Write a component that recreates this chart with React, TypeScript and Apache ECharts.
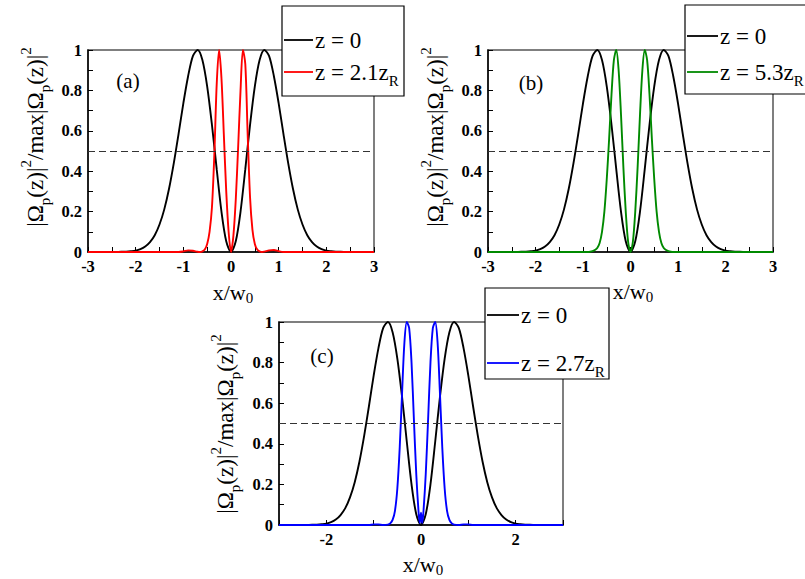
import React, { useEffect, useRef } from 'react';
import * as echarts from 'echarts';

const blackX = [-3, -2.9, -2.8, -2.7, -2.6, -2.5, -2.4, -2.3, -2.2, -2.1, -2, -1.9, -1.8, -1.7, -1.6, -1.5, -1.4, -1.3, -1.2, -1.1, -1, -0.9, -0.8, -0.7, -0.6, -0.5, -0.4, -0.3, -0.2, -0.1, 0, 0.1, 0.2, 0.3, 0.4, 0.5, 0.6, 0.7, 0.8, 0.9, 1, 1.1, 1.2, 1.3, 1.4, 1.5, 1.6, 1.7, 1.8, 1.9, 2, 2.1, 2.2, 2.3, 2.4, 2.5, 2.6, 2.7, 2.8, 2.9, 3];
const blackY = [0, 0, 0, 0, 0, 0, 0.0005, 0.001, 0.002, 0.004, 0.007, 0.014, 0.027, 0.049, 0.083, 0.136, 0.211, 0.313, 0.44, 0.585, 0.736, 0.87, 0.97, 1.0, 0.95, 0.82, 0.63, 0.41, 0.2, 0.053, 0, 0.053, 0.2, 0.41, 0.63, 0.82, 0.95, 1.0, 0.97, 0.87, 0.736, 0.585, 0.44, 0.313, 0.211, 0.136, 0.083, 0.049, 0.027, 0.014, 0.007, 0.004, 0.002, 0.001, 0.0005, 0, 0, 0, 0, 0, 0];

const redX = [-3, -1.2, -1.1, -1.0, -0.9, -0.8, -0.7, -0.65, -0.6, -0.55, -0.5, -0.45, -0.4, -0.35, -0.3, -0.25, -0.2, -0.15, -0.1, -0.05, 0, 0.05, 0.1, 0.15, 0.2, 0.25, 0.3, 0.35, 0.4, 0.45, 0.5, 0.55, 0.6, 0.65, 0.7, 0.8, 0.9, 1.0, 1.1, 1.2, 3];
const redY = [0, 0, 0, 0.003, 0.008, 0.006, 0.001, 0, 0.003, 0.012, 0.04, 0.1, 0.22, 0.48, 0.83, 1.0, 0.86, 0.58, 0.3, 0.1, 0, 0.08, 0.26, 0.52, 0.8, 1.0, 0.93, 0.58, 0.27, 0.11, 0.04, 0.012, 0.003, 0, 0.002, 0.008, 0.01, 0.004, 0, 0, 0];

const greenX = [-3, -1.0, -0.9, -0.85, -0.8, -0.75, -0.7, -0.65, -0.6, -0.55, -0.5, -0.45, -0.4, -0.35, -0.3, -0.25, -0.2, -0.15, -0.1, -0.05, 0, 0.05, 0.1, 0.15, 0.2, 0.25, 0.3, 0.35, 0.4, 0.45, 0.5, 0.55, 0.6, 0.65, 0.7, 0.75, 0.8, 0.85, 0.9, 1.0, 3];
const greenY = [0, 0, 0, 0.001, 0.004, 0.01, 0.02, 0.045, 0.1, 0.2, 0.36, 0.56, 0.78, 0.95, 1.0, 0.9, 0.68, 0.42, 0.2, 0.05, 0, 0.05, 0.2, 0.42, 0.68, 0.9, 1.0, 0.95, 0.78, 0.56, 0.36, 0.2, 0.1, 0.045, 0.02, 0.01, 0.004, 0.001, 0, 0, 0];

const blueX = [-3, -1.1, -1.0, -0.9, -0.8, -0.7, -0.65, -0.6, -0.55, -0.5, -0.45, -0.4, -0.35, -0.3, -0.25, -0.2, -0.15, -0.1, -0.05, -0.025, 0, 0.025, 0.05, 0.1, 0.15, 0.2, 0.25, 0.3, 0.35, 0.4, 0.45, 0.5, 0.55, 0.6, 0.65, 0.7, 0.8, 0.9, 1.0, 1.1, 3];
const blueY = [0, 0, 0.003, 0.003, 0, 0.002, 0.008, 0.025, 0.07, 0.18, 0.38, 0.65, 0.9, 1.0, 0.97, 0.8, 0.52, 0.25, 0.06, 0.01, 0.06, 0.01, 0.06, 0.25, 0.52, 0.8, 0.97, 1.0, 0.9, 0.65, 0.38, 0.18, 0.07, 0.025, 0.008, 0.002, 0, 0.003, 0.003, 0, 0];

const yTicks = { min: 0, max: 1, interval: 0.2 };
const xRange = { min: -3, max: 3, interval: 1 };
const halfLevel = 0.5;

const panelNames = ['(a)', '(b)', '(c)'];
const legendZero = 'z = 0';
const colored = [
  { x: redX, y: redY, color: '#ff0000', name: 'z = 2.1zR', z: '2.1' },
  { x: greenX, y: greenY, color: '#008a00', name: 'z = 5.3zR', z: '5.3' },
  { x: blueX, y: blueY, color: '#0000ff', name: 'z = 2.7zR', z: '2.7' },
];

const zip = (xs: number[], ys: number[]) => xs.map((x, i) => [x, ys[i]]);

const SERIF = 'Liberation Serif';

const grids = [
  { left: 88, top: 50, width: 286, height: 202 },
  { left: 488, top: 50, width: 285, height: 202 },
  { left: 279, top: 322, width: 284, height: 203 },
];

export default function App() {
  const ref = useRef<HTMLDivElement>(null);
  useEffect(() => {
    if (!ref.current) return;
    const chart = echarts.init(ref.current, undefined, { renderer: 'svg' });

    const labelStyle = { color: '#000', fontFamily: SERIF, fontWeight: 'bold' as const, fontSize: 16.5 };

    const xAxes = grids.map((_, i) => ({
      type: 'value',
      gridIndex: i,
      min: xRange.min,
      max: xRange.max,
      interval: xRange.interval,
      axisLine: { show: true, onZero: false, lineStyle: { color: '#000', width: 1.5 } },
      axisTick: { show: true, inside: true, length: 5, lineStyle: { color: '#000', width: 1 } },
      minorTick: { show: i < 2, splitNumber: 2, length: 5, lineStyle: { color: '#000', width: 1 } },
      splitLine: { show: false },
      axisLabel: {
        ...labelStyle,
        margin: 6,
        formatter: (v: number) => (i === 2 && Math.abs(v) % 2 !== 0 ? '' : String(v)),
      },
    }));
    const yAxes = grids.map((_, i) => ({
      type: 'value',
      gridIndex: i,
      min: yTicks.min,
      max: yTicks.max,
      interval: yTicks.interval,
      axisLine: { show: true, onZero: false, lineStyle: { color: '#000', width: 1.5 } },
      axisTick: { show: true, inside: true, length: 5, lineStyle: { color: '#000', width: 1 } },
      minorTick: { show: true, splitNumber: 2, length: 5, lineStyle: { color: '#000', width: 1 } },
      splitLine: { show: false },
      axisLabel: { ...labelStyle, margin: 6 },
    }));

    const series: any[] = [];
    grids.forEach((_, i) => {
      series.push({
        type: 'line',
        name: legendZero,
        xAxisIndex: i,
        yAxisIndex: i,
        data: zip(blackX, blackY),
        showSymbol: false,
        smooth: 0.3,
        lineStyle: { color: '#000', width: 1.9 },
        z: 3,
        markLine: {
          silent: true,
          symbol: ['none', 'none'],
          label: { show: false },
          lineStyle: { color: '#333', type: [7, 4], width: 1 },
          data: [{ yAxis: halfLevel }],
        },
      });
      series.push({
        type: 'line',
        name: colored[i].name,
        xAxisIndex: i,
        yAxisIndex: i,
        data: zip(colored[i].x, colored[i].y),
        showSymbol: false,
        smooth: 0.3,
        lineStyle: { color: colored[i].color, width: 1.9 },
        z: 4,
      });
    });

    const mainStyle = (size: number, lh: number) => ({ fontFamily: SERIF, fontSize: size, lineHeight: lh, fill: '#000', verticalAlign: 'middle' });
    const subStyle = { fontFamily: SERIF, fontSize: 15, lineHeight: 15, fill: '#000', verticalAlign: 'bottom' };
    const supStyle = { fontFamily: SERIF, fontSize: 15, lineHeight: 15, fill: '#000', verticalAlign: 'top' };

    const yTitle = (x: number, y: number) => ({
      type: 'text',
      x,
      y,
      rotation: Math.PI / 2,
      z: 50,
      style: {
        text: '{m||Ω}{s|p}{m|(z)|}{u|2}{m|/max|Ω}{s|p}{m|(z)|}{u|2}',
        rich: { m: mainStyle(23, 34), s: subStyle, u: supStyle },
        fontFamily: SERIF,
        fontSize: 23,
        align: 'center',
        verticalAlign: 'middle',
        fill: '#000',
      },
    });
    const xTitle = (x: number, y: number) => ({
      type: 'text',
      x,
      y,
      z: 50,
      style: {
        text: '{m|x/w}{s|0}',
        rich: { m: mainStyle(22, 26), s: subStyle },
        fontFamily: SERIF,
        fontSize: 22,
        align: 'center',
        verticalAlign: 'middle',
      },
    });
    const panelLabel = (t: string, x: number, y: number) => ({
      type: 'text',
      x,
      y,
      z: 50,
      style: { text: t, fontFamily: SERIF, fontSize: 21, fill: '#000', align: 'center', verticalAlign: 'middle' },
    });
    const legendBox = (
      bx: number, by: number, bw: number, bh: number,
      y1: number, y2: number, lx2: number, color: string, zval: string
    ) => ({
      type: 'group',
      z: 60,
      children: [
        { type: 'rect', z: 60, shape: { x: bx, y: by, width: bw, height: bh }, style: { fill: '#fff', stroke: '#000', lineWidth: 1.2 } },
        { type: 'line', z: 61, shape: { x1: bx + 2, y1: y1, x2: lx2, y2: y1 }, style: { stroke: '#000', lineWidth: 1.8 } },
        { type: 'line', z: 61, shape: { x1: bx + 2, y1: y2, x2: lx2, y2: y2 }, style: { stroke: color, lineWidth: 1.8 } },
        {
          type: 'text', z: 61, x: lx2 + 2, y: y1,
          style: { text: legendZero, fontFamily: SERIF, fontSize: 23, fill: '#000', align: 'left', verticalAlign: 'middle' },
        },
        {
          type: 'text', z: 61, x: lx2 + 2, y: y2,
          style: {
            text: `{m|z = ${zval}z}{s|R}`,
            rich: { m: mainStyle(23, 32), s: subStyle },
            fontFamily: SERIF,
            fontSize: 23,
            align: 'left',
            verticalAlign: 'middle',
          },
        },
      ],
    });

    chart.setOption({
      animation: false,
      backgroundColor: '#fff',
      textStyle: { fontFamily: SERIF },
      grid: grids.map((g) => ({ ...g, show: true, borderColor: '#555', borderWidth: 1.5, backgroundColor: 'transparent' })),
      xAxis: xAxes,
      yAxis: yAxes,
      series,
      graphic: [
        yTitle(35, 137),
        yTitle(435, 137),
        yTitle(225, 424),
        xTitle(233, 292),
        xTitle(633, 291),
        xTitle(423, 564),
        panelLabel(panelNames[0], 128, 81),
        panelLabel(panelNames[1], 531, 83),
        panelLabel(panelNames[2], 322, 356),
        legendBox(282, 6, 122, 90, 40, 72, 313, colored[0].color, colored[0].z),
        legendBox(685, 5, 130, 89, 36, 72, 718, colored[1].color, colored[1].z),
        legendBox(485, 288, 124, 91, 315, 363, 519, colored[2].color, colored[2].z),
      ],
    });
    return () => chart.dispose();
  }, []);
  return <div ref={ref} style={{ width: 805, height: 579, position: 'absolute', left: 0, top: 0 }} />;
}
